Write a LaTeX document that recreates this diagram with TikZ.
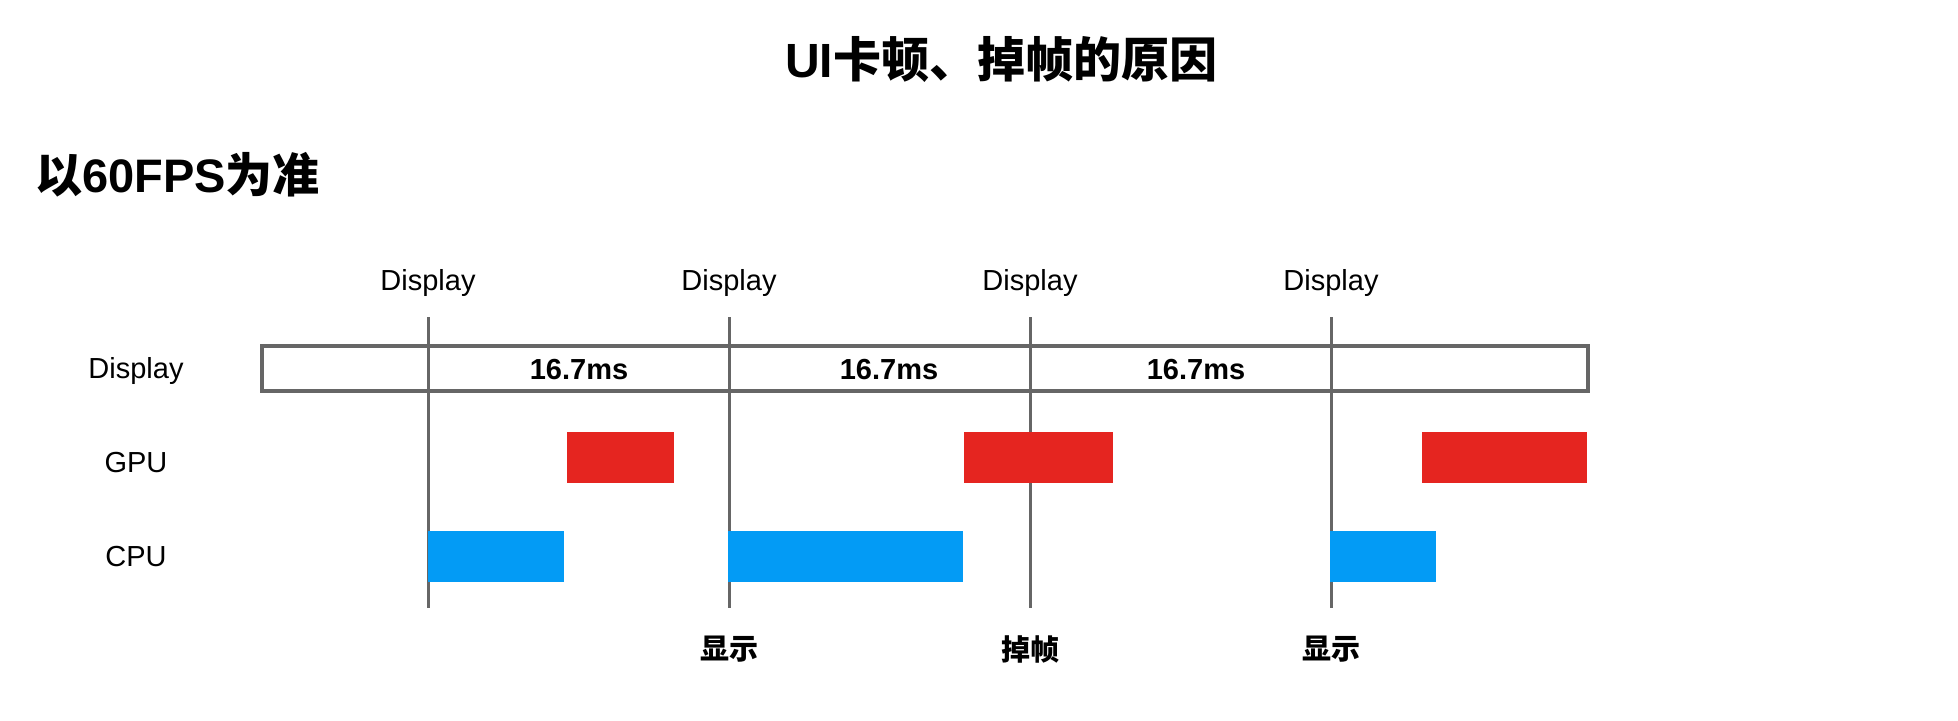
\documentclass[tikz,border=0pt]{standalone}
\usepackage{fontspec}
\setmainfont{Liberation Sans}
\newfontfamily\cjk{Noto Sans CJK SC}
\definecolor{barred}{RGB}{229,37,32}
\definecolor{barblue}{RGB}{3,155,245}
\definecolor{linegray}{RGB}{102,102,102}
\begin{document}
\begin{tikzpicture}[x=1pt,y=-1pt,
  lbl/.style={inner sep=0pt, font=\fontsize{29}{34}\selectfont},
  bold lbl/.style={inner sep=0pt, font=\fontsize{29}{34}\selectfont\bfseries},
  cjklbl/.style={inner sep=0pt, font=\fontsize{29}{34}\selectfont\cjk\bfseries},
  vline/.style={draw=linegray, line width=3pt},
  bar/.style={inner sep=0pt, outer sep=0pt, minimum height=51pt, anchor=west},
  redbar/.style={bar, fill=barred},
  bluebar/.style={bar, fill=barblue}]
\useasboundingbox (0,0) rectangle (1958,720);
% titles
\node[inner sep=0pt, font=\fontsize{48}{56}\selectfont\bfseries] (title) at (1001,59) {UI{\cjk 卡顿、掉帧的原因}};
\node[inner sep=0pt, anchor=west, font=\fontsize{47}{54}\selectfont\bfseries] (sub) at (35,175) {{\cjk 以}60FPS{\cjk 为准}};
% display box
\node[draw=linegray, line width=3.2pt, inner sep=0pt, minimum width=1326pt, minimum height=45pt] (box) at (925,368.5) {};
% vertical lines
\foreach \i/\x in {1/428,2/729,3/1030,4/1331}{
  \coordinate (t\i) at (\x,317);
  \coordinate (b\i) at (\x,608);
  \node[lbl] (d\i) at (\x,283) {Display};
}
\draw[vline] (t1) -- (b1);
\draw[vline] (t2) -- (b2);
\draw[vline] (t3) -- (b3);
\draw[vline] (t4) -- (b4);
% row labels
\node[lbl] (rdisp) at (136,371) {Display};
\node[lbl] (rgpu) at (136,463) {GPU};
\node[lbl] (rcpu) at (136,557) {CPU};
% interval labels
\node[bold lbl] (m1) at (579,370) {16.7ms};
\node[bold lbl] (m2) at (889,370) {16.7ms};
\node[bold lbl] (m3) at (1196,370) {16.7ms};
% GPU bars
\node[redbar, minimum width=107pt] (g1) at (567,457) {};
\node[redbar, minimum width=149pt] (g2) at (964,457) {};
\node[redbar, minimum width=165pt] (g3) at (1422,457) {};
% CPU bars
\node[bluebar, minimum width=136pt] (c1) at (428,556) {};
\node[bluebar, minimum width=235pt] (c2) at (728,556) {};
\node[bluebar, minimum width=106pt] (c3) at (1330,556) {};
% bottom labels
\node[cjklbl] (s1) at (729,649) {显示};
\node[cjklbl] (s2) at (1030,649) {掉帧};
\node[cjklbl] (s3) at (1331,649) {显示};
\end{tikzpicture}
\end{document}
